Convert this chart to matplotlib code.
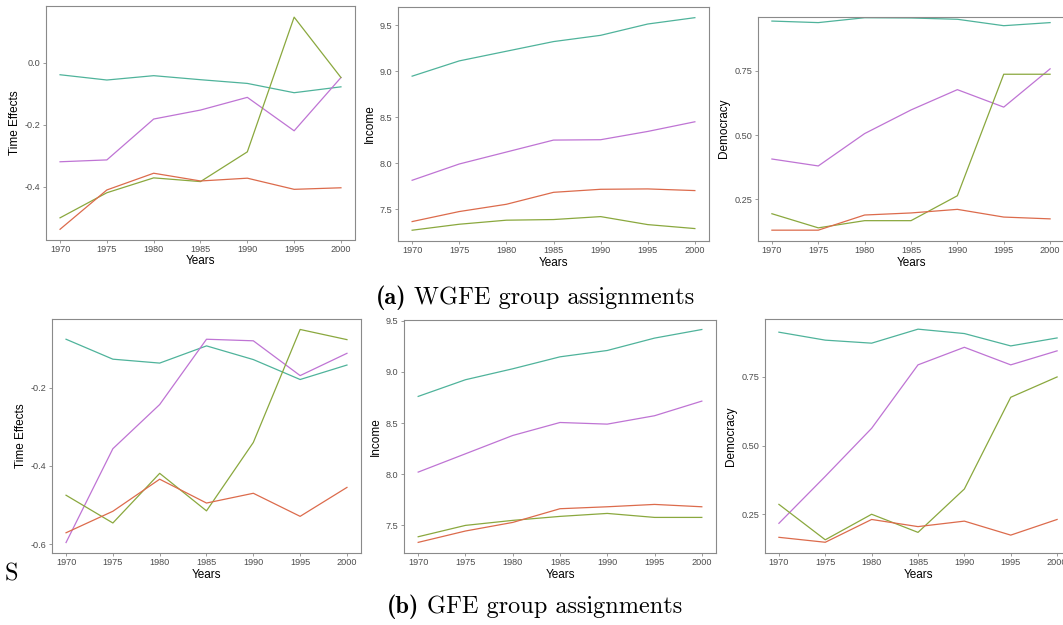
import matplotlib
matplotlib.use("Agg")
import matplotlib.pyplot as plt
import numpy as np

# Data
years = [1970, 1975, 1980, 1985, 1990, 1995, 2000]
group_colors = ["#4fb39b", "#bf74d4", "#8aa83e", "#dc6b4c"]  # teal, purple, olive, red

# (a) WGFE group assignments
wgfe_time = [
    [-0.039, -0.056, -0.042, -0.055, -0.067, -0.097, -0.078],
    [-0.320, -0.314, -0.182, -0.153, -0.112, -0.220, -0.048],
    [-0.501, -0.420, -0.372, -0.384, -0.288, 0.147, -0.048],
    [-0.538, -0.411, -0.357, -0.382, -0.373, -0.409, -0.404],
]
wgfe_income = [
    [8.947, 9.113, 9.218, 9.323, 9.391, 9.514, 9.583],
    [7.815, 7.992, 8.122, 8.252, 8.256, 8.346, 8.451],
    [7.272, 7.337, 7.381, 7.388, 7.420, 7.333, 7.290],
    [7.366, 7.475, 7.554, 7.684, 7.717, 7.721, 7.703],
]
wgfe_democracy = [
    [0.944, 0.938, 0.957, 0.956, 0.951, 0.926, 0.938],
    [0.407, 0.380, 0.506, 0.598, 0.677, 0.609, 0.758],
    [0.194, 0.139, 0.167, 0.167, 0.264, 0.737, 0.737],
    [0.130, 0.130, 0.189, 0.197, 0.211, 0.181, 0.174],
]

# (b) GFE group assignments
gfe_time = [
    [-0.076, -0.127, -0.137, -0.093, -0.128, -0.179, -0.142],
    [-0.596, -0.356, -0.243, -0.076, -0.080, -0.169, -0.112],
    [-0.475, -0.546, -0.419, -0.515, -0.340, -0.051, -0.077],
    [-0.571, -0.516, -0.434, -0.495, -0.470, -0.529, -0.455],
]
gfe_income = [
    [8.761, 8.924, 9.031, 9.148, 9.210, 9.331, 9.415],
    [8.021, 8.200, 8.379, 8.506, 8.490, 8.572, 8.715],
    [7.389, 7.500, 7.549, 7.588, 7.617, 7.578, 7.578],
    [7.334, 7.445, 7.529, 7.663, 7.682, 7.705, 7.682],
]
gfe_democracy = [
    [0.913, 0.884, 0.873, 0.924, 0.908, 0.863, 0.892],
    [0.217, 0.388, 0.563, 0.794, 0.858, 0.794, 0.845],
    [0.286, 0.157, 0.250, 0.184, 0.342, 0.676, 0.750],
    [0.166, 0.148, 0.231, 0.205, 0.225, 0.174, 0.231],
]

time_ticks_a = [-0.4, -0.2, 0.0]
time_ticks_b = [-0.6, -0.4, -0.2]
income_ticks = [7.5, 8.0, 8.5, 9.0, 9.5]
democracy_ticks = [0.25, 0.50, 0.75]

W, H = 1063, 625
plt.rcParams["font.family"] = ["Liberation Sans", "DejaVu Sans"]
plt.rcParams["axes.unicode_minus"] = False

fig = plt.figure(figsize=(W / 100, H / 100), dpi=100)


def px_rect(left, right, top, bottom):
    """Convert pixel box (from the top-left) into a figure-fraction rect."""
    return [left / W, 1 - bottom / H, (right - left) / W, (bottom - top) / H]


def draw_panel(rect, series, ylabel, yticks, fmt, ylim):
    ax = fig.add_axes(rect)
    for vals, col in zip(series, group_colors):
        ax.plot(years, vals, color=col, linewidth=0.9)
    ax.set_xlim(1968.5, 2001.5)
    ax.set_ylim(*ylim)
    ax.set_xticks(years)
    ax.set_yticks(yticks)
    ax.set_yticklabels([fmt.format(v) for v in yticks])
    ax.set_xlabel("Years", fontsize=8.5, labelpad=1)
    ax.set_ylabel(ylabel, fontsize=8.5, labelpad=3)
    ax.tick_params(labelsize=6.6, labelcolor="#4d4d4d", color="#8a8a8a",
                   length=2.5, width=0.6, pad=1.5)
    for sp in ax.spines.values():
        sp.set_color("#8a8a8a")
        sp.set_linewidth(0.8)
    return ax


# top row: WGFE
draw_panel(px_rect(46, 355, 6, 239.5), wgfe_time, "Time Effects",
           time_ticks_a, "{:.1f}", (-0.571, 0.183))
draw_panel(px_rect(398, 709, 7, 240.7), wgfe_income, "Income",
           income_ticks, "{:.1f}", (7.158, 9.699))
draw_panel(px_rect(758, 1064, 16.7, 240.7), wgfe_democracy, "Democracy",
           democracy_ticks, "{:.2f}", (0.089, 0.961))

# bottom row: GFE
draw_panel(px_rect(52, 361, 319.3, 552.7), gfe_time, "Time Effects",
           time_ticks_b, "{:.1f}", (-0.622, -0.025))
draw_panel(px_rect(404, 716, 320, 552.7), gfe_income, "Income",
           income_ticks, "{:.1f}", (7.233, 9.508))
draw_panel(px_rect(765, 1071, 319, 552.7), gfe_democracy, "Democracy",
           democracy_ticks, "{:.2f}", (0.110, 0.961))

# captions
def caption(x, y, tag, rest, size=17.5):
    t1 = fig.text(x, y, tag, family="cmb10", fontsize=size, ha="left", va="center")
    fig.canvas.draw()
    bb = t1.get_window_extent()
    fig.text(bb.x1 / W + 0.007, y, rest, family="cmr10", fontsize=size,
             ha="left", va="center")


caption(376 / W, 1 - 298 / H, "(a)", "WGFE group assignments")
caption(387 / W, 1 - 607 / H, "(b)", "GFE group assignments")
fig.text(5 / W, 1 - 574 / H, "S", family="cmr10", fontsize=17.5,
         ha="left", va="center")

fig.savefig("out.png", dpi=100)
